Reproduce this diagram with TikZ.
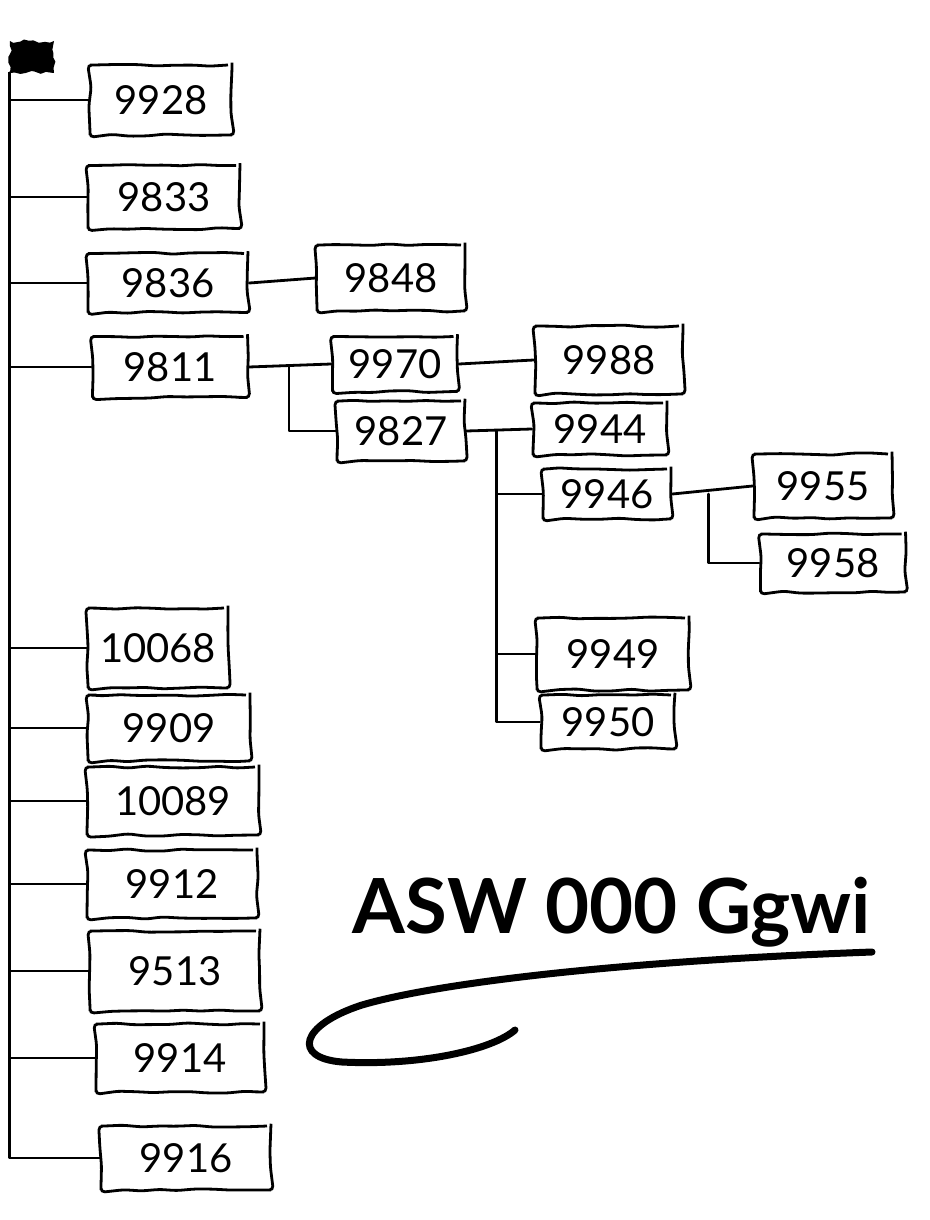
\documentclass[tikz,border=0pt]{standalone}
\usepackage{fontspec}
\setmainfont{Lato}
\usetikzlibrary{decorations.pathmorphing}

\tikzset{
  idbox/.style={draw, line width=2.8pt, rounded corners=4pt, inner sep=0pt,
    decorate, decoration={random steps, segment length=18pt, amplitude=1.2pt},
    font=\fontsize{40}{40}\selectfont},
  link/.style={line width=2.8pt, line join=round, line cap=round}
}

\begin{document}
\begin{tikzpicture}[x=1pt, y=-1pt]
  \pgfmathsetseed{7}
  \useasboundingbox (0,0) rectangle (929,1220);

  % Root scribble
  \node [fill=black, minimum width=44pt, minimum height=32pt, decorate,
    decoration={random steps, segment length=5pt, amplitude=2pt}] (root) at (32,57) {};

  % First column
  \node [idbox, minimum width=142pt, minimum height=70pt] (n9928) at (161,100) {9928};
  \node [idbox, minimum width=152pt, minimum height=63pt] (n9833) at (164,197) {9833};
  \node [idbox, minimum width=160pt, minimum height=59pt] (n9836) at (168,283) {9836};
  \node [idbox, minimum width=155pt, minimum height=61pt] (n9811) at (170,367) {9811};
  \node [idbox, minimum width=140pt, minimum height=80pt] (n10068) at (158,648) {10068};
  \node [idbox, minimum width=162pt, minimum height=66pt] (n9909) at (169,728) {9909};
  \node [idbox, minimum width=172pt, minimum height=68pt] (n10089) at (173,801) {10089};
  \node [idbox, minimum width=170pt, minimum height=68pt] (n9912) at (172,884) {9912};
  \node [idbox, minimum width=170pt, minimum height=80pt] (n9513) at (175,971) {9513};
  \node [idbox, minimum width=168pt, minimum height=68pt] (n9914) at (180,1058) {9914};
  \node [idbox, minimum width=170pt, minimum height=64pt] (n9916) at (186,1158) {9916};

  % Second column
  \node [idbox, minimum width=148pt, minimum height=66pt] (n9848) at (391,278) {9848};
  \node [idbox, minimum width=125pt, minimum height=55pt] (n9970) at (395,364) {9970};
  \node [idbox, minimum width=128pt, minimum height=60pt] (n9827) at (401,431) {9827};

  % Third column
  \node [idbox, minimum width=148pt, minimum height=68pt] (n9988) at (609,360) {9988};
  \node [idbox, minimum width=134pt, minimum height=52pt] (n9944) at (600,429) {9944};
  \node [idbox, minimum width=128pt, minimum height=50pt] (n9946) at (607,494) {9946};
  \node [idbox, minimum width=152pt, minimum height=72pt] (n9949) at (613,654) {9949};
  \node [idbox, minimum width=134pt, minimum height=54pt] (n9950) at (608,722) {9950};

  % Fourth column
  \node [idbox, minimum width=138pt, minimum height=64pt] (n9955) at (823,486) {9955};
  \node [idbox, minimum width=145pt, minimum height=58pt] (n9958) at (833,563) {9958};

  % Links
  \foreach \n in {9928,9833,9836,9811,10068,9909,10089,9912,9513,9914,9916}
    \draw [link] (root.south west) |- (n\n.west);

  \draw [link] (n9836.east) -- (n9848.west);
  \draw [link] (n9811.east) -- (n9970.west);
  \draw [link] (n9811.east) ++(40,0) |- (n9827.west);
  \draw [link] (n9970.east) -- (n9988.west);
  \draw [link] (n9827.east) -- (n9944.west);
  \foreach \n in {9946,9949,9950}
    \draw [link] (n9827.east) ++(30,0) |- (n\n.west);
  \draw [link] (n9946.east) -- (n9955.west);
  \draw [link] (n9946.east) ++(36,0) |- (n9958.west);

  % Title
  \node [font=\fontsize{76}{76}\selectfont\bfseries] (title) at (612,912) {ASW 000 Ggwi};
  \draw [line width=7pt, line cap=round]
    (872,952) .. controls (600,962) and (430,985) .. (362,1005)
    .. controls (300,1025) and (292,1058) .. (342,1062)
    .. controls (420,1066) and (492,1050) .. (515,1030);
\end{tikzpicture}
\end{document}
